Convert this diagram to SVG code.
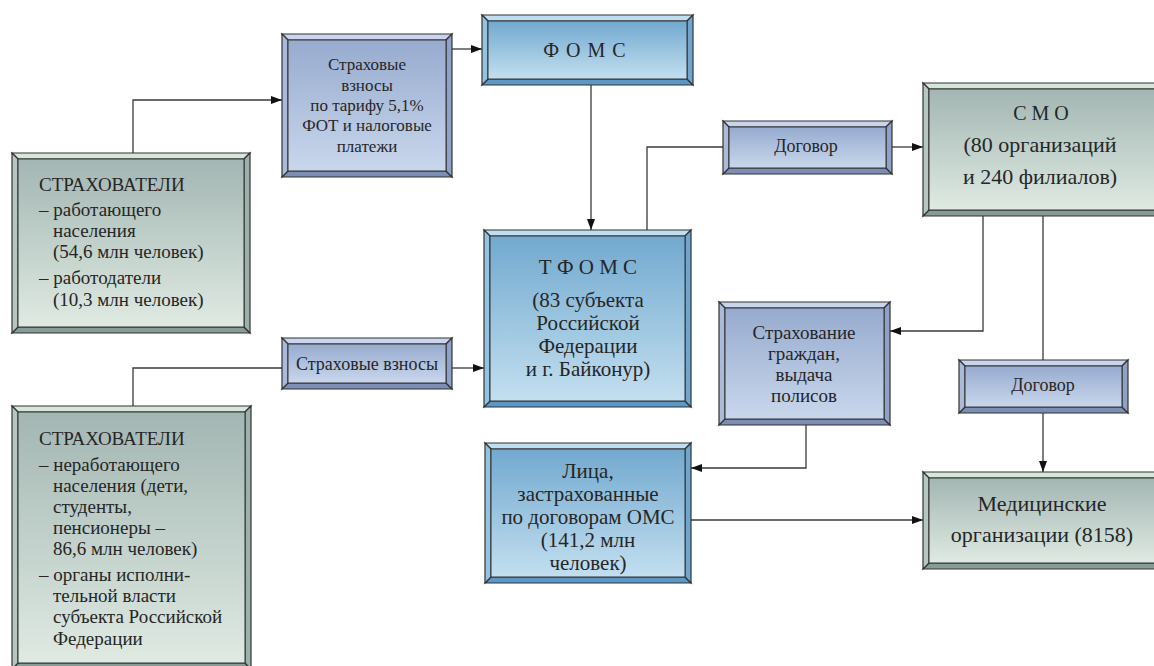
<svg xmlns="http://www.w3.org/2000/svg" width="1154" height="666" viewBox="0 0 1154 666" font-family="Liberation Serif, serif">
<defs>
<linearGradient id="gG" x1="0" y1="0" x2="0" y2="1"><stop offset="0" stop-color="#a3b6b3"/><stop offset="1" stop-color="#dfeae2"/></linearGradient>
<linearGradient id="gS" x1="0" y1="0" x2="0" y2="1"><stop offset="0" stop-color="#97abcf"/><stop offset="1" stop-color="#c9d7ec"/></linearGradient>
<linearGradient id="gB" x1="0" y1="0" x2="0" y2="1"><stop offset="0" stop-color="#72a9cf"/><stop offset="1" stop-color="#c3dff0"/></linearGradient>
<marker id="ah" markerUnits="userSpaceOnUse" markerWidth="12" markerHeight="9" refX="11" refY="4" orient="auto"><path d="M0,0 L11,4 L0,8 z" fill="#111"/></marker>
</defs>
<style>
.o{stroke:#333;stroke-width:1.2}
.i{stroke:#333;stroke-width:1}
.g .t{fill:#d5e6da}.g .l{fill:#b5c7c1}.g .r{fill:#9db1ac}.g .b{fill:#879c96}.g .i{fill:url(#gG)}
.s .t{fill:#c9d5ec}.s .l{fill:#abbad9}.s .r{fill:#8fa1c6}.s .b{fill:#7c8eb5}.s .i{fill:url(#gS)}
.u .t{fill:#bfdef1}.u .l{fill:#94c3e1}.u .r{fill:#6ea6cf}.u .b{fill:#5d97c4}.u .i{fill:url(#gB)}
text{font-family:"Liberation Serif","DejaVu Serif",serif;fill:#262626}
.f17{font-size:17px}.f18{font-size:18px}.f19{font-size:19px}.f20{font-size:20px}.f21{font-size:21px}.f22{font-size:22px}
.c{text-anchor:middle}
#connectors path{fill:none;stroke:#3a3a3a;stroke-width:1.3}
</style>
<rect width="1154" height="666" fill="#fff"/>

<g id="connectors">
<path d="M133,153 V100 H282" marker-end="url(#ah)"/>
<path d="M452,49 H482" marker-end="url(#ah)"/>
<path d="M591,85 V230" marker-end="url(#ah)"/>
<path d="M647,230 V147 H723"/>
<path d="M892,147 H923" marker-end="url(#ah)"/>
<path d="M983,216 V331 H890" marker-end="url(#ah)"/>
<path d="M1043,216 V360"/>
<path d="M1043,413 V472" marker-end="url(#ah)"/>
<path d="M806,425 V468 H691" marker-end="url(#ah)"/>
<path d="M691,520 H923" marker-end="url(#ah)"/>
<path d="M133,406 V368 H282"/>
<path d="M452,368 H484" marker-end="url(#ah)"/>
</g>

<g id="insurers-working" class="g">
<polygon class="o t" points="12,153 250,153 244,159 18,159"/>
<polygon class="o b" points="12,333 250,333 244,327 18,327"/>
<polygon class="o l" points="12,153 18,159 18,327 12,333"/>
<polygon class="o r" points="250,153 244,159 244,327 250,333"/>
<rect class="i" x="18" y="159" width="226" height="168"/>
<text class="f19" x="39" y="191">СТРАХОВАТЕЛИ</text>
<text class="f19" x="39" y="216">– работающего</text>
<text class="f19" x="53" y="237">населения</text>
<text class="f19" x="53" y="258">(54,6 млн человек)</text>
<text class="f19" x="39" y="284">– работодатели</text>
<text class="f19" x="53" y="306">(10,3 млн человек)</text>
</g>

<g id="insurers-nonworking" class="g">
<polygon class="o t" points="12,406 251,406 245,412 18,412"/>
<polygon class="o b" points="12,669 251,669 245,663 18,663"/>
<polygon class="o l" points="12,406 18,412 18,663 12,669"/>
<polygon class="o r" points="251,406 245,412 245,663 251,669"/>
<rect class="i" x="18" y="412" width="227" height="251"/>
<text class="f19" x="39" y="445">СТРАХОВАТЕЛИ</text>
<text class="f19" x="39" y="471">– неработающего</text>
<text class="f19" x="53" y="492">населения (дети,</text>
<text class="f19" x="53" y="513">студенты,</text>
<text class="f19" x="53" y="534">пенсионеры –</text>
<text class="f19" x="53" y="555">86,6 млн человек)</text>
<text class="f19" x="39" y="581">– органы исполни-</text>
<text class="f19" x="53" y="602">тельной власти</text>
<text class="f19" x="53" y="623">субъекта Российской</text>
<text class="f19" x="53" y="645">Федерации</text>
</g>

<g id="contributions-tariff" class="s">
<polygon class="o t" points="282,34 452,34 446,40 288,40"/>
<polygon class="o b" points="282,177 452,177 446,171 288,171"/>
<polygon class="o l" points="282,34 288,40 288,171 282,177"/>
<polygon class="o r" points="452,34 446,40 446,171 452,177"/>
<rect class="i" x="288" y="40" width="158" height="131"/>
<text class="f17 c" x="367" y="70">Страховые</text>
<text class="f17 c" x="367" y="91">взносы</text>
<text class="f17 c" x="367" y="111">по тарифу 5,1%</text>
<text class="f17 c" x="367" y="131">ФОТ и налоговые</text>
<text class="f17 c" x="367" y="152">платежи</text>
</g>

<g id="foms" class="u">
<polygon class="o t" points="482,15 693,15 687,21 488,21"/>
<polygon class="o b" points="482,85 693,85 687,79 488,79"/>
<polygon class="o l" points="482,15 488,21 488,79 482,85"/>
<polygon class="o r" points="693,15 687,21 687,79 693,85"/>
<rect class="i" x="488" y="21" width="199" height="58"/>
<text class="f20 c" x="585" y="57" letter-spacing="1">Ф О М С</text>
</g>

<g id="tfoms" class="u">
<polygon class="o t" points="484,230 691,230 685,236 490,236"/>
<polygon class="o b" points="484,407 691,407 685,401 490,401"/>
<polygon class="o l" points="484,230 490,236 490,401 484,407"/>
<polygon class="o r" points="691,230 685,236 685,401 691,407"/>
<rect class="i" x="490" y="236" width="195" height="165"/>
<text class="f21 c" x="588" y="274">Т Ф О М С</text>
<text class="f21 c" x="588" y="307">(83 субъекта</text>
<text class="f21 c" x="588" y="330">Российской</text>
<text class="f21 c" x="588" y="353">Федерации</text>
<text class="f21 c" x="588" y="376">и г. Байконур)</text>
</g>

<g id="contract-1" class="s">
<polygon class="o t" points="723,121 892,121 886,127 729,127"/>
<polygon class="o b" points="723,174 892,174 886,168 729,168"/>
<polygon class="o l" points="723,121 729,127 729,168 723,174"/>
<polygon class="o r" points="892,121 886,127 886,168 892,174"/>
<rect class="i" x="729" y="127" width="157" height="41"/>
<text class="f18 c" x="806" y="152">Договор</text>
</g>

<g id="smo" class="g">
<polygon class="o t" points="923,83 1162,83 1156,89 929,89"/>
<polygon class="o b" points="923,216 1162,216 1156,210 929,210"/>
<polygon class="o l" points="923,83 929,89 929,210 923,216"/>
<polygon class="o r" points="1162,83 1156,89 1156,210 1162,216"/>
<rect class="i" x="929" y="89" width="227" height="121"/>
<text class="f20 c" x="1041" y="120">С М О</text>
<text class="f22 c" x="1040" y="152">(80 организаций</text>
<text class="f22 c" x="1040" y="184">и 240 филиалов)</text>
</g>

<g id="contributions" class="s">
<polygon class="o t" points="282,338 452,338 446,344 288,344"/>
<polygon class="o b" points="282,389 452,389 446,383 288,383"/>
<polygon class="o l" points="282,338 288,344 288,383 282,389"/>
<polygon class="o r" points="452,338 446,344 446,383 452,389"/>
<rect class="i" x="288" y="344" width="158" height="39"/>
<text class="f18 c" x="367" y="370">Страховые взносы</text>
</g>

<g id="insurance-policies" class="s">
<polygon class="o t" points="719,302 890,302 884,308 725,308"/>
<polygon class="o b" points="719,425 890,425 884,419 725,419"/>
<polygon class="o l" points="719,302 725,308 725,419 719,425"/>
<polygon class="o r" points="890,302 884,308 884,419 890,425"/>
<rect class="i" x="725" y="308" width="159" height="111"/>
<text class="f19 c" x="804" y="339">Страхование</text>
<text class="f19 c" x="804" y="360">граждан,</text>
<text class="f19 c" x="804" y="381">выдача</text>
<text class="f19 c" x="804" y="402">полисов</text>
</g>

<g id="contract-2" class="s">
<polygon class="o t" points="959,360 1128,360 1122,366 965,366"/>
<polygon class="o b" points="959,413 1128,413 1122,407 965,407"/>
<polygon class="o l" points="959,360 965,366 965,407 959,413"/>
<polygon class="o r" points="1128,360 1122,366 1122,407 1128,413"/>
<rect class="i" x="965" y="366" width="157" height="41"/>
<text class="f18 c" x="1043" y="391">Договор</text>
</g>

<g id="insured-persons" class="u">
<polygon class="o t" points="485,443 691,443 685,449 491,449"/>
<polygon class="o b" points="485,583 691,583 685,577 491,577"/>
<polygon class="o l" points="485,443 491,449 491,577 485,583"/>
<polygon class="o r" points="691,443 685,449 685,577 691,583"/>
<rect class="i" x="491" y="449" width="194" height="128"/>
<text class="f21 c" x="588" y="478">Лица,</text>
<text class="f21 c" x="588" y="501">застрахованные</text>
<text class="f21 c" x="588" y="524">по договорам ОМС</text>
<text class="f21 c" x="588" y="547">(141,2 млн</text>
<text class="f21 c" x="588" y="570">человек)</text>
</g>

<g id="medical-orgs" class="g">
<polygon class="o t" points="923,472 1162,472 1156,478 929,478"/>
<polygon class="o b" points="923,569 1162,569 1156,563 929,563"/>
<polygon class="o l" points="923,472 929,478 929,563 923,569"/>
<polygon class="o r" points="1162,472 1156,478 1156,563 1162,569"/>
<rect class="i" x="929" y="478" width="227" height="85"/>
<text class="f22 c" x="1042" y="511">Медицинские</text>
<text class="f22 c" x="1042" y="542">организации (8158)</text>
</g>
</svg>
